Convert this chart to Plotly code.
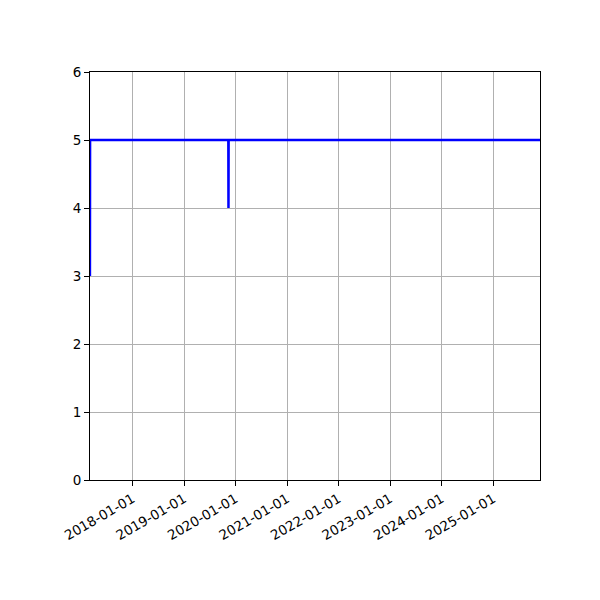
import plotly.graph_objects as go

# valeurs
dates = ["2017-03-05", "2017-03-06", "2019-11-11", "2019-11-12", "2019-11-13", "2025-11-28"]
values = [3, 5, 5, 4, 5, 5]
tick_dates = ["2018-01-01", "2019-01-01", "2020-01-01", "2021-01-01",
              "2022-01-01", "2023-01-01", "2024-01-01", "2025-01-01"]

fig = go.Figure(go.Scatter(
    x=dates, y=values,
    mode="lines",
    line=dict(color="blue", width=2.5, shape="linear"),
))

axis_style = dict(
    showline=True, linecolor="black", linewidth=1, mirror=True,
    showgrid=True, gridcolor="#b0b0b0", gridwidth=1,
    ticks="outside", ticklen=5, tickcolor="black",
    zeroline=False,
)

# la page ajoute 8px de marge : on compense
fig.update_layout(
    width=600, height=600,
    margin=dict(l=82, r=68, t=64, b=128),
    paper_bgcolor="white", plot_bgcolor="white",
    showlegend=False,
    font=dict(family="DejaVu Sans", size=13.5, color="black"),
    xaxis=dict(
        type="date",
        range=["2017-03-05 12:00", dates[-1]],
        tickvals=tick_dates,
        tickformat="%Y-%m-%d",
        tickangle=-30,
        **axis_style,
    ),
    yaxis=dict(
        range=[0, 6],
        tickvals=[0, 1, 2, 3, 4, 5, 6],
        **axis_style,
    ),
)

fig.write_html("out.html")
